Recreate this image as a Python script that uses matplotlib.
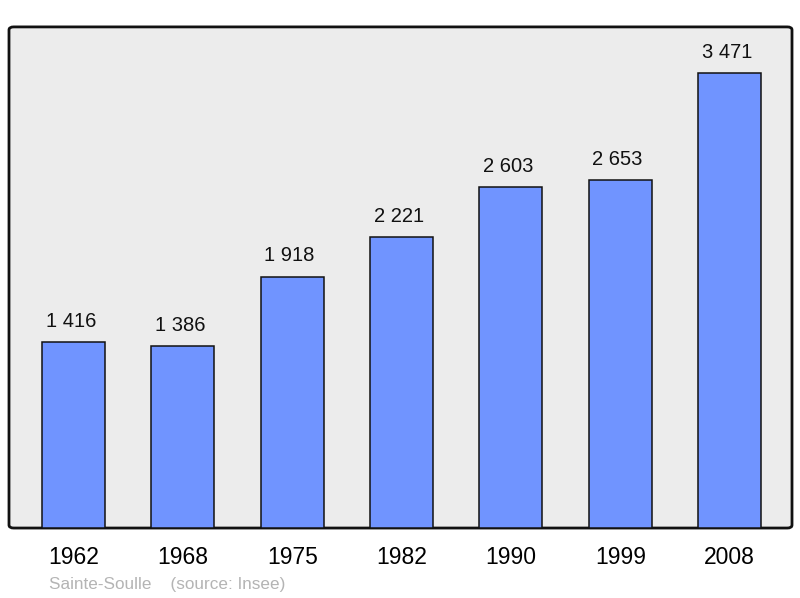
import matplotlib.pyplot as plt
from matplotlib.patches import FancyBboxPatch

years = ['1962', '1968', '1975', '1982', '1990', '1999', '2008']
population = [1416, 1386, 1918, 2221, 2603, 2653, 3471]
value_labels = ['1 416', '1 386', '1 918', '2 221', '2 603', '2 653', '3 471']

plt.rcParams['font.family'] = ['Liberation Sans', 'DejaVu Sans']

fig = plt.figure(figsize=(8, 5.98), dpi=100)
ax = fig.add_axes([0.01125, 0.117, 0.97875, 0.838])
ax.set_facecolor('none')

# gray panel with slightly rounded corners
panel = FancyBboxPatch((0, 0), 1, 1,
                       boxstyle='round,pad=0,rounding_size=0.006',
                       transform=ax.transAxes, facecolor='#ececec',
                       edgecolor='#111111', linewidth=2, zorder=0,
                       clip_on=False)
ax.add_patch(panel)

x = list(range(len(years)))
ax.bar(x, population, width=0.576, color='#7094ff', edgecolor='#111111',
       linewidth=1.1, zorder=2)

for xi, v, lab in zip(x, population, value_labels):
    ax.annotate(lab, (xi, v), xytext=(-2, 8), textcoords='offset points',
                ha='center', va='bottom', fontsize=14.5, color='#111111')

ax.set_xlim(-0.59, 6.57)
ax.set_ylim(0, 3822)
ax.set_xticks(x)
ax.set_xticklabels(years, fontsize=16.5)
ax.tick_params(axis='x', length=0, pad=13)
ax.set_yticks([])
for s in ax.spines.values():
    s.set_visible(False)

fig.text(0.061, 0.010, 'Sainte-Soulle    (source: Insee)', fontsize=12.3,
         color='#b4b4b4', ha='left', va='bottom')

fig.savefig('out.png', dpi=100)
